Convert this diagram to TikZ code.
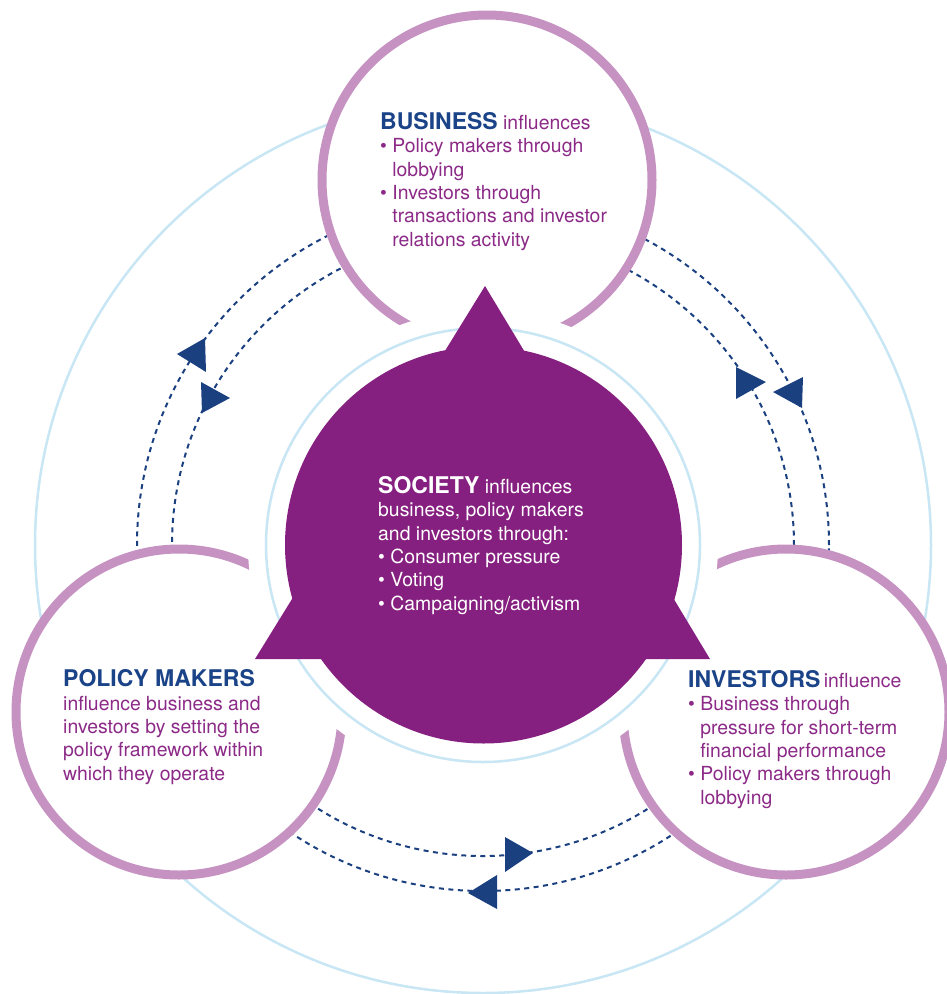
\documentclass[tikz,border=0pt]{standalone}
\usepackage{fontspec}
\setmainfont{TeX Gyre Heros}
\definecolor{ringpurple}{RGB}{197,146,194}
\definecolor{socpurple}{RGB}{134,32,128}
\definecolor{textpurple}{RGB}{140,42,135}
\definecolor{titleblue}{RGB}{27,67,136}
\definecolor{dashblue}{RGB}{27,64,128}
\definecolor{lightblue}{RGB}{200,230,244}
\newcommand{\ttl}[1]{{\fontsize{23}{23.3}\selectfont\bfseries #1}}
\newcommand{\bul}{\textbullet\ }
\newcommand{\hng}{\hphantom{\textbullet\ }}
\begin{document}
\begin{tikzpicture}[x=1pt,y=-1pt,
  ring/.style={circle, draw=ringpurple, line width=9pt, fill=white, inner sep=0pt},
  halo/.style={draw=lightblue, line width=2.5pt},
  flow/.style={draw=dashblue, line width=2pt, dash pattern=on 5pt off 4.5pt},
  tip/.style={fill=dashblue},
  txt/.style={anchor=base west, align=left, inner sep=0pt, text=textpurple,
    font=\fontsize{19.4}{23.3}\selectfont}
]
\useasboundingbox (0,0) rectangle (946,994);
\coordinate (c) at (483,545);
% big outer light-blue circle
\draw[halo] (c) circle[radius=448pt];
% dashed flows
\draw[flow] (c) circle[radius=311pt];
\draw[flow] (c) circle[radius=346pt];
% arrow heads
\fill[tip] (177,354) -- (205,338) -- (206,372) -- cycle;
\fill[tip] (230,398) -- (201,382) -- (202,413) -- cycle;
\fill[tip] (766,382) -- (736,367) -- (736,399) -- cycle;
\fill[tip] (773,392) -- (803,377) -- (802,408) -- cycle;
\fill[tip] (533,853) -- (505,837) -- (505,872) -- cycle;
\fill[tip] (468,893) -- (497,875) -- (497,909) -- cycle;
% three actor circles
\node[ring, minimum size=330pt] (business) at (487,180) {};
\node[ring, minimum size=326pt] (policy) at (179,712) {};
\node[ring, minimum size=326pt] (investors) at (786,712) {};
% white halo cutting the gaps
\fill[white] (c) circle[radius=235pt];
% inner light-blue circle
\draw[halo] (c) circle[radius=217pt];
% society
\fill[socpurple] (483.5,545) circle[radius=198.5pt];
\fill[socpurple] (485,286) -- (255,659) -- (710,659) -- cycle;
% texts (base anchor = baseline of last line)
\node[txt] (bustext) at (380,246) {\textcolor{titleblue}{\ttl{BUSINESS}} influences\\
\bul Policy makers through\\
\hng lobbying\\
\bul Investors through\\
\hng transactions and investor\\
\hng relations activity};
\node[txt] (poltext) at (63,780) {\textcolor{titleblue}{\ttl{POLICY MAKERS}}\\
influence business and\\
investors by setting the\\
policy framework within\\
which they operate};
\node[txt] (invtext) at (688,804) {\textcolor{titleblue}{\ttl{INVESTORS}}\,influence\\
\bul Business through\\
\hng pressure for short-term\\
\hng financial performance\\
\bul Policy makers through\\
\hng lobbying};
\node[txt, text=white] (soctext) at (378,610) {\ttl{SOCIETY} influences\\
business, policy makers\\
and investors through:\\
\bul Consumer pressure\\
\bul Voting\\
\bul Campaigning/activism};
\end{tikzpicture}
\end{document}
